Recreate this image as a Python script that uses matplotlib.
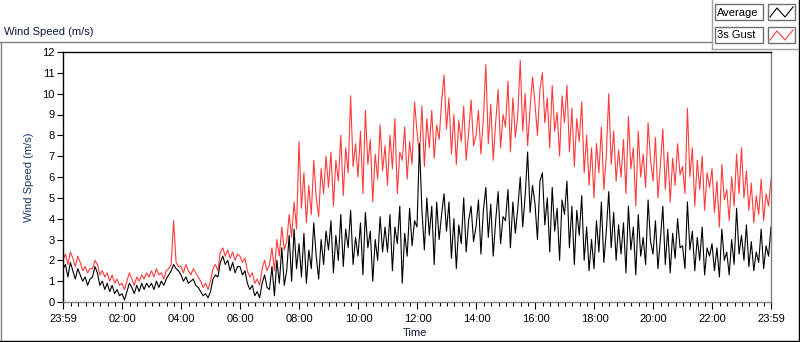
import matplotlib
matplotlib.use("Agg")
import matplotlib.pyplot as plt
import numpy as np
from matplotlib.patches import Rectangle

plt.rcParams['font.family'] = ['Liberation Sans', 'DejaVu Sans']

# minutes after 23:59, sampled every 5 minutes
step_min = 5

gust = [
    2.0, 2.3, 1.8, 2.4, 2.1, 1.7, 2.2, 1.9, 1.5, 1.7, 1.4, 1.6,
    1.6, 2.0, 1.8, 1.3, 1.5, 1.2, 1.4, 1.0, 1.3, 0.9, 1.1, 0.8,
    0.9, 0.6, 1.0, 1.4, 1.1, 0.8, 1.2, 1.0, 1.3, 1.1, 1.4, 1.2,
    1.5, 1.2, 1.6, 1.3, 1.4, 1.1, 1.5, 1.6, 1.8, 3.9, 1.9, 1.7,
    1.7, 1.4, 1.8, 1.5, 1.3, 1.6, 1.4, 1.2, 1.0, 0.7, 0.9, 0.6,
    1.0, 1.6, 1.8, 1.5, 2.4, 2.6, 2.2, 2.5, 2.1, 2.4, 2.0, 2.3,
    2.2, 1.9, 2.1, 1.5, 1.2, 1.4, 0.9, 1.1, 0.8, 1.6, 2.0, 1.5,
    1.8, 2.6, 1.5, 3.0, 2.2, 3.6, 2.5, 2.9, 4.2, 3.1, 4.8, 3.5,
    7.7, 4.5, 6.2, 3.8, 5.6, 4.2, 6.8, 5.0, 4.1, 6.4, 5.2, 7.0,
    5.5, 7.2, 4.6, 6.8, 5.8, 8.0, 5.1, 7.4, 6.2, 9.9, 6.5, 7.6,
    6.0, 8.2, 5.2, 9.2, 6.6, 7.8, 4.8, 7.1, 5.9, 8.5, 6.3, 7.5,
    5.6, 8.0, 6.4, 8.8, 5.2, 7.2, 6.8, 8.4, 5.9, 7.7, 6.6, 9.6,
    8.2, 7.0, 9.4, 6.5, 8.8, 7.4, 9.2, 6.9, 8.5, 7.8, 9.6, 10.9,
    8.3, 9.8, 7.1, 9.0, 6.6, 8.7, 7.7, 9.4, 6.8, 8.1, 9.7, 7.5,
    8.0, 9.2, 7.1, 8.8, 11.4, 7.6, 9.5, 6.8, 8.6, 10.2, 7.4, 9.0,
    8.4, 10.6, 7.2, 9.8, 7.9, 9.0, 11.6, 8.2, 10.0, 7.5, 9.3, 10.8,
    9.5, 8.0, 10.2, 11.0, 8.6, 9.8, 7.4, 10.4, 8.2, 9.1, 7.0, 9.9,
    8.6, 10.4, 7.2, 9.3, 6.5, 8.8, 7.7, 9.6, 6.2, 8.0, 5.6, 7.4,
    5.0, 7.6, 6.2, 8.4, 5.4, 7.0, 10.0, 6.6, 8.2, 5.8, 7.3, 6.0,
    7.8, 5.2, 8.9, 6.4, 7.4, 4.6, 8.2, 6.0, 7.1, 5.5, 8.6, 6.8,
    5.8, 7.9, 5.0, 6.6, 8.3, 5.4, 7.2, 4.8, 6.9, 5.6, 7.6, 6.1,
    6.5, 5.2, 9.3, 6.0, 7.4, 4.6, 6.8, 5.4, 7.0, 4.4, 6.2, 5.5,
    6.4, 4.3, 5.8, 3.6, 6.6, 4.9, 5.4, 3.9, 6.0, 4.6, 7.1, 5.2,
    7.4, 5.0, 6.3, 4.4, 5.7, 3.8, 5.1, 4.2, 5.9, 3.9, 5.2, 4.6,
    5.9,
]

average = [
    1.6, 1.8, 1.2, 1.9, 1.5, 1.1, 1.6, 1.3, 1.0, 1.2, 0.8, 1.1,
    1.2, 1.7, 1.4, 0.8, 1.0, 0.6, 0.9, 0.5, 0.8, 0.4, 0.6, 0.3,
    0.4, 0.1, 0.5, 0.9, 0.7, 0.4, 0.8, 0.5, 0.9, 0.6, 0.9, 0.7,
    0.9, 0.6, 1.0, 0.7, 1.0, 0.8, 1.1, 1.3, 1.5, 1.8, 1.6, 1.5,
    1.3, 1.0, 1.2, 0.9, 1.0, 1.1, 0.8, 0.7, 0.5, 0.3, 0.4, 0.2,
    0.5, 1.1, 1.3, 1.2, 1.9, 2.2, 1.8, 2.0, 1.5, 1.9, 1.4, 1.7,
    1.7, 1.3, 1.5, 0.9, 0.6, 0.8, 0.3, 0.5, 0.2, 0.9, 1.3, 0.7,
    0.6, 1.7, 0.3, 2.0, 0.9, 2.6, 0.8, 1.5, 3.2, 1.0, 3.5, 1.6,
    2.8, 1.2, 3.3, 0.9, 2.5, 1.6, 3.8, 2.2, 1.1, 3.0, 1.8, 3.4,
    2.5, 3.9, 1.4, 3.2, 2.0, 4.2, 1.7, 3.5, 2.6, 4.4, 1.8, 3.1,
    2.2, 3.8, 1.3, 4.3, 2.6, 3.4, 1.0, 3.0, 2.0, 4.1, 2.4, 3.6,
    2.4, 4.2, 1.5, 3.6, 2.8, 4.6, 0.9, 3.3, 2.2, 4.5, 2.7, 3.9,
    3.6, 7.6, 4.4, 2.5, 5.0, 3.2, 4.6, 1.8, 4.8, 3.0, 4.2, 5.2,
    3.4, 4.8, 2.1, 4.0, 1.6, 3.7, 2.8, 5.0, 2.4, 3.9, 4.6, 2.9,
    3.6, 4.9, 2.3, 4.4, 5.5, 3.1, 4.7, 2.2, 3.9, 5.3, 2.8, 4.1,
    3.9, 5.4, 2.6, 4.8, 3.3, 4.5, 6.0, 3.6, 5.1, 7.2, 4.3, 5.6,
    4.7, 3.0, 5.8, 6.2, 3.7, 5.0, 2.4, 5.5, 3.4, 4.5, 2.0, 4.9,
    4.2, 5.8, 2.6, 4.6, 1.8, 4.4, 3.2, 5.1, 2.0, 3.6, 1.5, 3.0,
    1.6, 3.9, 2.4, 4.8, 1.9, 3.4, 5.3, 2.6, 4.3, 2.0, 3.7, 2.3,
    3.8, 1.4, 4.6, 2.5, 3.6, 1.3, 4.2, 2.2, 3.1, 1.8, 4.9, 2.9,
    2.3, 3.9, 1.6, 3.0, 4.6, 1.8, 3.5, 1.4, 3.3, 2.1, 4.0, 2.6,
    2.7, 1.6, 4.8, 2.5, 3.4, 1.5, 3.1, 2.0, 3.6, 1.3, 2.6, 2.2,
    2.8, 1.5, 2.6, 1.2, 3.5, 2.0, 2.4, 1.3, 3.0, 1.8, 4.5, 2.3,
    3.2, 2.0, 3.7, 1.7, 2.9, 1.5, 2.4, 1.9, 3.5, 1.6, 2.7, 2.2,
    3.6,
]

tick_labels = ["23:59", "02:00", "04:00", "06:00", "08:00", "10:00",
               "12:00", "14:00", "16:00", "18:00", "20:00", "22:00", "23:59"]
tick_pos = [0, 121, 241, 361, 481, 601, 721, 841, 961, 1081, 1201, 1321, 1440]

W, H = 800, 342
fig = plt.figure(figsize=(W / 100, H / 100), dpi=100)

# plot area in pixels: x 63..771, y 52..302
ax = fig.add_axes([63 / W, 1 - 302 / H, 708 / W, 250 / H])
t = np.arange(len(gust)) * step_min
ax.plot(t, gust, color="#ff3b3b", linewidth=0.8)
ax.plot(t, average, color="black", linewidth=0.8)

ax.set_xlim(0, 1440)
ax.set_ylim(0, 12)
ax.set_yticks(range(0, 13))
ax.set_xticks(tick_pos)
ax.set_xticklabels(tick_labels)
ax.set_xticks(np.arange(1, 1440, 15), minor=True)
ax.tick_params(axis="both", labelsize=8, colors="black", width=0.8)
ax.tick_params(axis="x", which="major", length=5, pad=4)
ax.tick_params(axis="x", which="minor", length=3, width=0.8)
ax.tick_params(axis="y", length=4, pad=2)

ax.spines["top"].set_color("black")
ax.spines["left"].set_color("black")
ax.spines["bottom"].set_color("#808080")
ax.spines["right"].set_color("#808080")
for s in ax.spines.values():
    s.set_linewidth(1.0)

ax.set_ylabel("Wind Speed (m/s)", fontsize=8, color="#1c3566", labelpad=6)

# overlay in pixel coordinates for panel frame, title and legend
ov = fig.add_axes([0, 0, 1, 1], zorder=-1)
ov.set_xlim(0, W)
ov.set_ylim(H, 0)
ov.axis("off")

ov.plot([0, 712], [42, 42], color="#808080", lw=1)
ov.plot([1, 1], [42, 341], color="#808080", lw=1)
ov.plot([0, 799], [341, 341], color="black", lw=1)
ov.plot([799, 799], [0, 341], color="black", lw=1)
ov.plot([712, 712], [0, 49], color="#a0a0a0", lw=1)
ov.plot([712, 798], [49, 49], color="#a0a0a0", lw=1)

ov.text(4, 32, "Wind Speed (m/s)", fontsize=8, color="#10183a", va="center", ha="left")
ov.text(403, 333, "Time", fontsize=8, color="#10183a", va="center", ha="left")

ov2 = fig.add_axes([0, 0, 1, 1], zorder=5)
ov2.set_xlim(0, W)
ov2.set_ylim(H, 0)
ov2.axis("off")
ov2.patch.set_alpha(0)

legend_names = ["Average", "3s Gust"]
legend_colors = ["black", "#ff3b3b"]
for i, (name, col) in enumerate(zip(legend_names, legend_colors)):
    y0 = 4 + i * 23
    ov2.add_patch(Rectangle((715, y0), 48, 16, facecolor="white", edgecolor="#707070", lw=1))
    ov2.add_patch(Rectangle((768, y0), 27, 16, facecolor="white", edgecolor="#707070", lw=1))
    ov2.text(717, y0 + 8.5, name, fontsize=8, color="black", va="center", ha="left")
    ov2.plot([770, 777, 785, 793], [y0 + 13, y0 + 4, y0 + 13, y0 + 3], color=col, lw=0.8)

fig.savefig("out.png", dpi=100)
